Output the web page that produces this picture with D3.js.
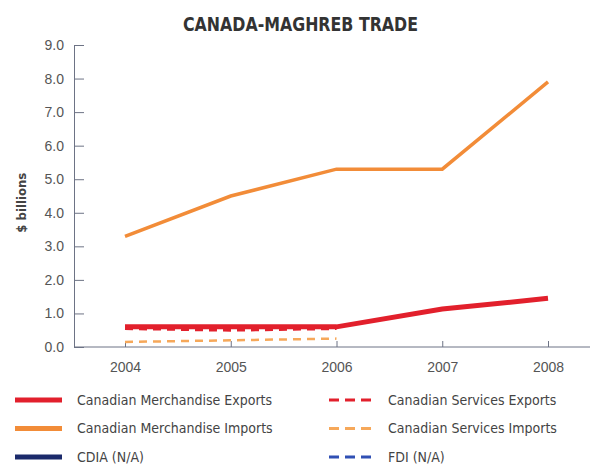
<!DOCTYPE html>
<html>
<head>
<meta charset="utf-8">
<script src="https://cdn.jsdelivr.net/npm/d3@7"></script>
<style>
	body { margin: 0; background: #fff; }
	svg { display: block; font-family: "Liberation Sans Narrow", "DejaVu Sans Condensed", sans-serif; }
	.axis path, .axis line { stroke: #6d7385; }
	.axis text { fill: #555; font-size: 14px; }
</style>
</head>
<body>
<svg id="chart" width="590" height="470"></svg>
<script>
const Width = 590;
const Height = 470;

const years = ["2004", "2005", "2006", "2007", "2008"];
const yTicks = [0, 1, 2, 3, 4, 5, 6, 7, 8, 9];
const merchExports = [0.6, 0.6, 0.6, 1.13, 1.45];
const merchImports = [3.3, 4.5, 5.3, 5.3, 7.9];
const servExports = [0.55, 0.5, 0.55, null, null];
const servImports = [0.15, 0.2, 0.25, null, null];
const cdia = [null, null, null, null, null];
const fdi = [null, null, null, null, null];

const series = [
	{ name: "Canadian Merchandise Exports", values: merchExports, color: "#e2202c", width: 5, dash: null },
	{ name: "Canadian Merchandise Imports", values: merchImports, color: "#f28c38", width: 3.5, dash: null },
	{ name: "CDIA (N/A)", values: cdia, color: "#1b2a6b", width: 5, dash: null },
	{ name: "Canadian Services Exports", values: servExports, color: "#e2202c", width: 3, dash: "8,6" },
	{ name: "Canadian Services Imports", values: servImports, color: "#f6a85a", width: 2.5, dash: "8,6" },
	{ name: "FDI (N/A)", values: fdi, color: "#3050b4", width: 2.5, dash: "8,6" }
];

const chart = d3.select("#chart");

const x = d3.scalePoint().domain(years).range([125, 548]);
const y = d3.scaleLinear().domain([0, 9]).range([347, 45]);
const axisX = 74;

chart.append("text")
	.attr("x", 183).attr("y", 31)
	.attr("font-weight", "bold")
	.attr("font-size", 19)
	.attr("fill", "#333")
	.attr("textLength", 235)
	.attr("lengthAdjust", "spacingAndGlyphs")
	.text("CANADA-MAGHREB TRADE");

// y axis, ticks point into the plot
chart.append("g").attr("class", "axis")
	.attr("transform", `translate(${axisX},0)`)
	.call(d3.axisLeft(y).tickValues(yTicks).tickFormat(d3.format(".1f")).tickSize(-10).tickSizeOuter(0).tickPadding(10));

chart.append("text")
	.attr("transform", `translate(21,${y(4.3)}) rotate(-90)`)
	.attr("text-anchor", "middle")
	.attr("dy", "0.35em")
	.attr("font-size", 13)
	.attr("font-weight", "bold")
	.attr("fill", "#444")
	.text("$ billions");

// x axis runs to the right edge
const xaxis = chart.append("g").attr("class", "axis")
	.attr("transform", `translate(0,${y(0)})`)
	.call(d3.axisBottom(x).tickSize(-6).tickSizeOuter(0).tickPadding(15));
xaxis.select(".domain").remove();
xaxis.append("line").attr("x1", axisX).attr("x2", Width).attr("stroke", "#6d7385");

const line = d3.line()
	.defined(d => d.v != null)
	.x(d => x(d.year))
	.y(d => y(d.v));

// draw dashed series first so solid exports sit on top
[4, 3, 5, 1, 0, 2].forEach(i => {
	const s = series[i];
	chart.append("path")
		.datum(years.map((yr, j) => ({ year: yr, v: s.values[j] })))
		.attr("fill", "none")
		.attr("stroke", s.color)
		.attr("stroke-width", s.width)
		.attr("stroke-dasharray", s.dash)
		.attr("d", line);
});

// legend: two columns of three
const legend = chart.append("g");
series.forEach((s, i) => {
	const col = Math.floor(i / 3);
	const row = i % 3;
	const g = legend.append("g").attr("transform", `translate(${col ? 329 : 15},${400 + row * 28.5})`);
	g.append("line")
		.attr("x1", 0).attr("x2", col ? 44 : 47)
		.attr("stroke", s.color)
		.attr("stroke-width", col ? 3 : 5)
		.attr("stroke-dasharray", s.dash ? "10,6" : null);
	g.append("text")
		.attr("x", col ? 59 : 62).attr("dy", "0.35em")
		.attr("font-size", 14)
		.attr("fill", "#444")
		.text(s.name);
});
</script>
</body>
</html>
